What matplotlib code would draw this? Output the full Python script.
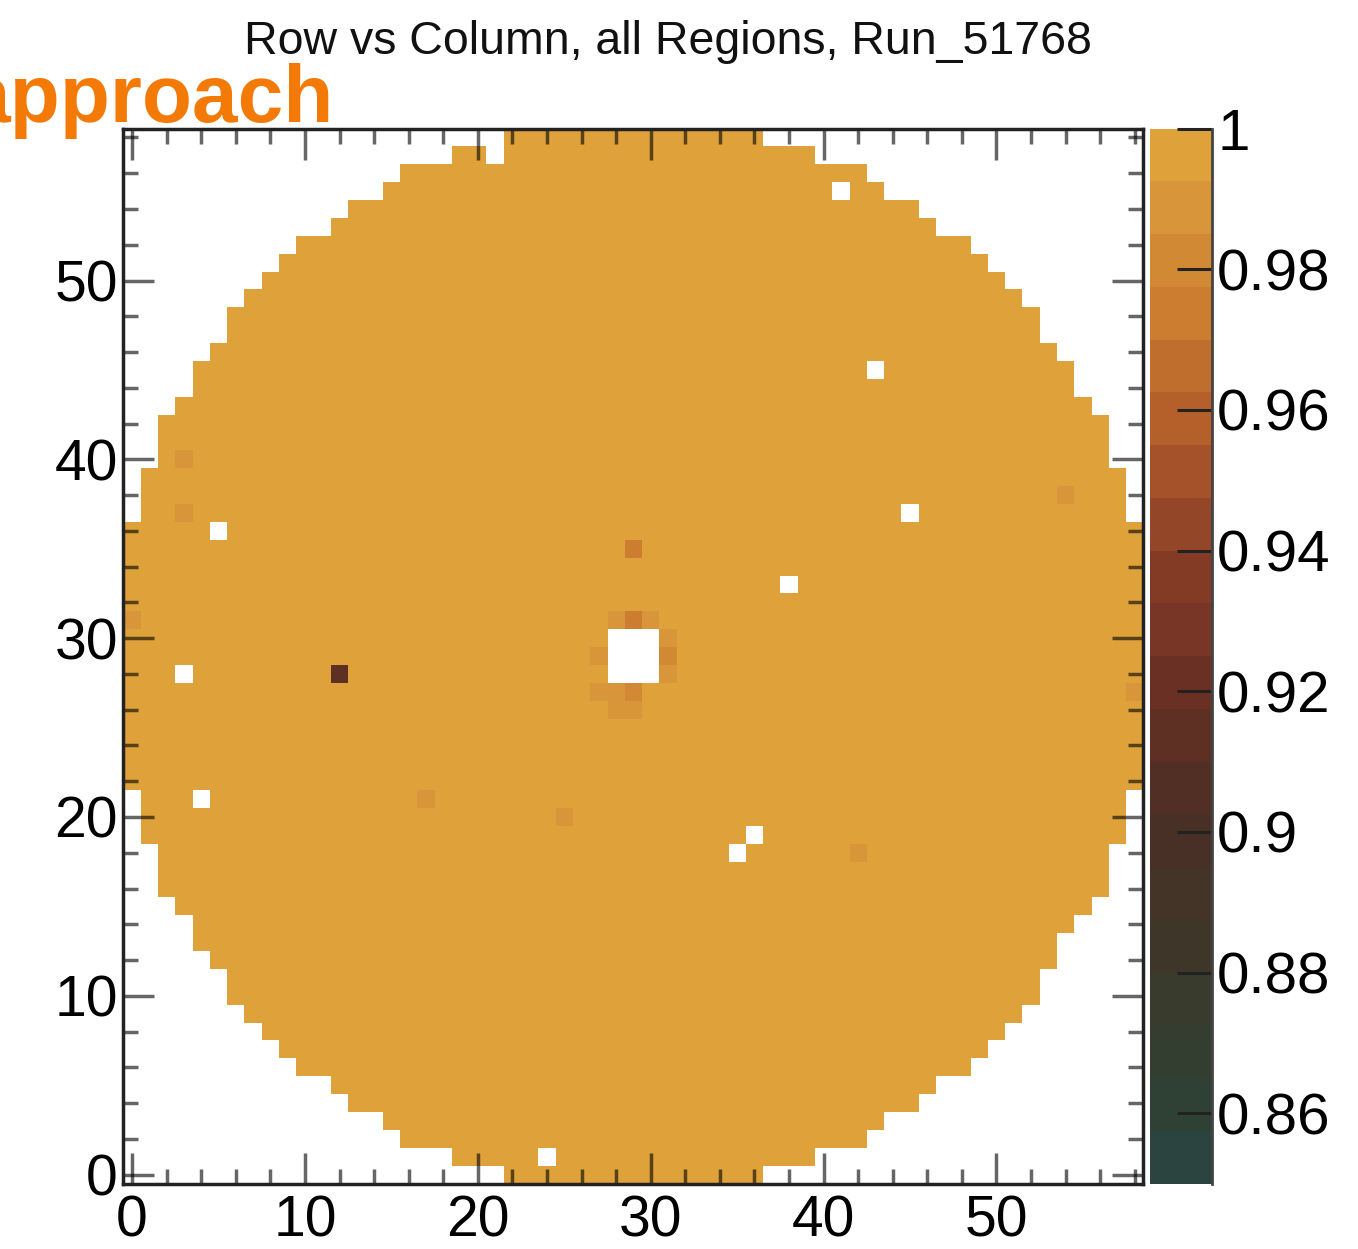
import numpy as np
import matplotlib
matplotlib.use('Agg')
import matplotlib.pyplot as plt
from matplotlib.colors import ListedColormap, BoundaryNorm
from matplotlib.ticker import MultipleLocator, FuncFormatter

plt.rcParams['font.family'] = ['Liberation Sans', 'DejaVu Sans']

# 59 x 59 pixel map (column, row)
nbins = 59

# first / last filled column of each row, row 0 at the bottom
row_first = [22, 19, 16, 15, 13, 12, 10, 9, 8, 7, 6, 6, 5, 4, 4, 3, 2, 2, 2, 1, 1, 1,
             0, 0, 0, 0, 0, 0, 0, 0, 0, 0, 0, 0, 0, 0, 0,
             1, 1, 1, 2, 2, 2, 3, 4, 4, 5, 6, 6, 7, 8, 9, 10, 12, 13, 15, 16, 19, 22]
row_last = [36, 39, 42, 43, 45, 46, 48, 49, 50, 51, 52, 52, 53, 53, 54, 55, 56, 56, 56, 57, 57, 57,
            58, 58, 58, 58, 58, 58, 58, 58, 58, 58, 58, 58, 58, 58, 58,
            57, 57, 57, 56, 56, 56, 55, 54, 54, 53, 52, 52, 51, 50, 49, 48, 46, 45, 43, 42, 39, 36]

# cells with no entries (column, row)
empty_cells = [(21, 57), (41, 55), (43, 45), (45, 37), (38, 33), (5, 36), (3, 28),
               (4, 21), (24, 1), (36, 19), (35, 18),
               (28, 28), (29, 28), (30, 28), (28, 29), (29, 29), (30, 29),
               (28, 30), (29, 30), (30, 30)]

# cells below 1 (column, row, value)
low_cells = [(3, 40, 0.99), (3, 37, 0.99), (0, 31, 0.99), (54, 38, 0.99),
             (17, 21, 0.99), (25, 20, 0.99), (42, 18, 0.99), (58, 27, 0.99),
             (28, 31, 0.99), (30, 31, 0.99), (31, 30, 0.99), (27, 29, 0.99),
             (31, 28, 0.99), (27, 27, 0.99), (28, 27, 0.99), (28, 26, 0.99),
             (29, 26, 0.99),
             (29, 35, 0.975), (29, 31, 0.975), (31, 29, 0.98), (29, 27, 0.98),
             (12, 28, 0.913)]

# palette, bottom (0.85) to top (1.0)
palette = ['#2c4440', '#2f4135', '#343e30', '#393b2c', '#3e3729', '#433427',
           '#483026', '#512f25', '#5e3023', '#6a3023', '#773626', '#833b26',
           '#944628', '#a5522a', '#b55f2a', '#c06e2d', '#cc7d30', '#d28934',
           '#d8953a', '#dfa23a']
zmin, zmax = 0.85, 1.0
cbar_ticks = [0.86, 0.88, 0.90, 0.92, 0.94, 0.96, 0.98, 1.0]

z = np.full((nbins, nbins), np.nan)
for r, (a, b) in enumerate(zip(row_first, row_last)):
    z[r, a:b + 1] = 1.0
for c, r, v in low_cells:
    z[r, c] = v
for c, r in empty_cells:
    z[r, c] = np.nan

fig = plt.figure(figsize=(13.58, 12.49), dpi=100)
ax = fig.add_axes([0.0909, 0.0524, 0.7511, 0.8447])

cmap = ListedColormap(palette)
cmap.set_bad((1, 1, 1, 0))
norm = BoundaryNorm(np.linspace(zmin, zmax, len(palette) + 1), cmap.N, clip=True)
edges = np.arange(nbins + 1) - 0.5
mesh = ax.pcolormesh(edges, edges, np.ma.masked_invalid(z), cmap=cmap, norm=norm)

ax.set_xlim(-0.5, nbins - 0.5)
ax.set_ylim(-0.5, nbins - 0.5)
for a in (ax.xaxis, ax.yaxis):
    a.set_major_locator(MultipleLocator(10))
    a.set_minor_locator(MultipleLocator(2))
ax.tick_params(which='both', direction='in', top=True, right=True,
               color=(0, 0, 0, 0.6), width=2.5, labelsize=41)
ax.tick_params(which='major', length=22)
ax.tick_params(which='minor', length=10.5)
ax.tick_params(axis='x', pad=8)
ax.tick_params(axis='y', pad=4)
for s in ax.spines.values():
    s.set_linewidth(2.5)
    s.set_color('#222222')

# colour scale
cax = fig.add_axes([0.8465, 0.0524, 0.0457, 0.8447])
cb = fig.colorbar(mesh, cax=cax, ticks=cbar_ticks)
cb.ax.yaxis.set_major_formatter(FuncFormatter(lambda v, p: f'{v:g}'))
cb.ax.minorticks_off()
cb.ax.tick_params(direction='in', length=25, width=2.2, color='#222222',
                  labelsize=42, pad=4)
cb.outline.set_visible(False)
cax.plot([1, 1], [0, 1], transform=cax.transAxes, color='#444444', lw=2, clip_on=False)

fig.text(0.4919, 0.9565, 'Row vs Column, all Regions, Run_51768',
         ha='center', va='baseline', fontsize=33.5, color='#111111')
fig.text(-0.026, 0.9026, 'approach', ha='left', va='baseline',
         fontsize=59, fontweight='bold', color='#f37a06')

fig.savefig('out.png', dpi=100)
